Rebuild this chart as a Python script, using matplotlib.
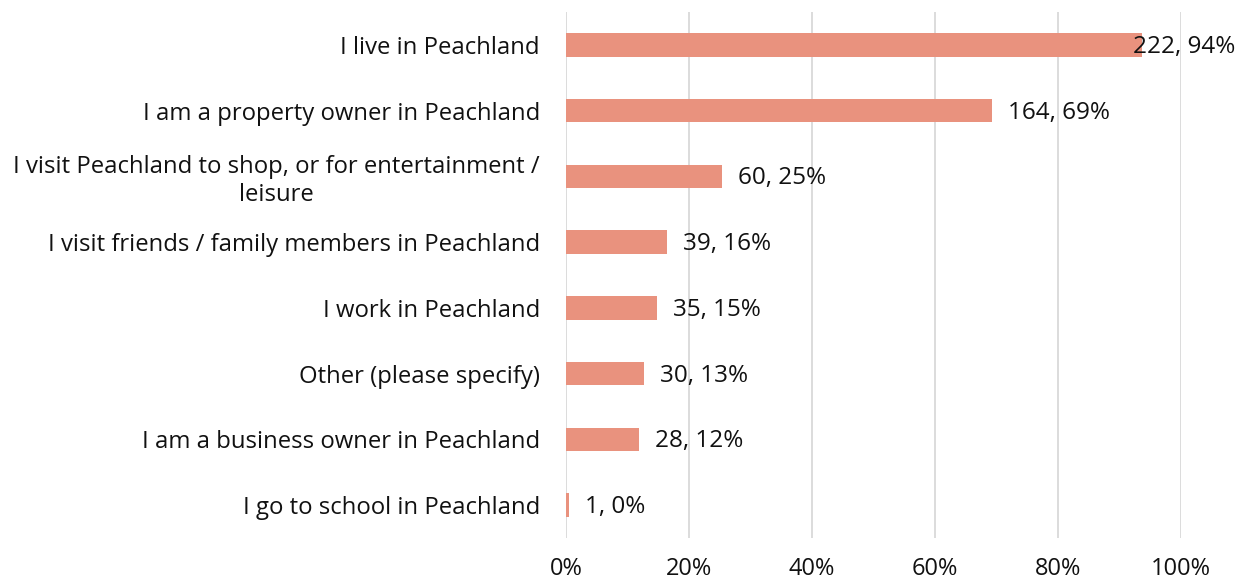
import matplotlib.pyplot as plt
from matplotlib import font_manager

# survey: relationship to Peachland (multiple answers allowed)
categories = [
    "I live in Peachland",
    "I am a property owner in Peachland",
    "I visit Peachland to shop, or for entertainment /\nleisure",
    "I visit friends / family members in Peachland",
    "I work in Peachland",
    "Other (please specify)",
    "I am a business owner in Peachland",
    "I go to school in Peachland",
]
counts = [222, 164, 60, 39, 35, 30, 28, 1]
total_respondents = 237
xticks = [0, 0.2, 0.4, 0.6, 0.8, 1.0]
xticklabels = ["0%", "20%", "40%", "60%", "80%", "100%"]

bar_color = "#E9927E"
grid_color = "#D9D9D9"
text_color = "#111111"

names = {f.name for f in font_manager.fontManager.ttflist}
label_font = "Open Sans" if "Open Sans" in names else "DejaVu Sans"

shares = [c / total_respondents for c in counts]

fig = plt.figure(figsize=(12.43, 5.84), dpi=100)
ax = fig.add_axes([566 / 1243, 1 - 538 / 584, 615 / 1243, 526 / 584])

y = list(range(len(categories)))
ax.barh(y, shares, height=0.36, color=bar_color, zorder=2)

for yi, c, s in zip(y, counts, shares):
    # the longest bar has its label pulled back so it stays inside the figure
    dx = -9 if s > 0.9 else 16
    ax.annotate(f"{c}, {round(s * 100)}%", xy=(s, yi), xytext=(dx * 0.72, -1.5),
                textcoords="offset points", va="center", ha="left",
                fontsize=17.5, family=label_font, color=text_color, zorder=3)

ax.set_ylim(len(categories) - 0.5, -0.5)
ax.set_xlim(0, 1.0)
ax.set_yticks(y)
ax.set_yticklabels(categories, fontsize=17.2, family=label_font, color=text_color,
                   ha="center", multialignment="center", linespacing=1.2)
ax.tick_params(axis="y", length=0, pad=0)
# center multi-line labels on their own width, right edge 26px left of the axis
fig.canvas.draw()
renderer = fig.canvas.get_renderer()
for lab in ax.get_yticklabels():
    w = lab.get_window_extent(renderer).width
    lab.set_horizontalalignment("center")
    lab.set_x(-(w / 2 + 26) / 615)

ax.set_xticks(xticks)
ax.set_xticklabels(xticklabels, fontsize=17, family=label_font, color=text_color)
ax.tick_params(axis="x", length=0, pad=14)

ax.grid(axis="x", color=grid_color, linewidth=1.3, zorder=0)
for side in ["top", "right", "bottom", "left"]:
    ax.spines[side].set_visible(False)

fig.savefig("out.png", dpi=100)
